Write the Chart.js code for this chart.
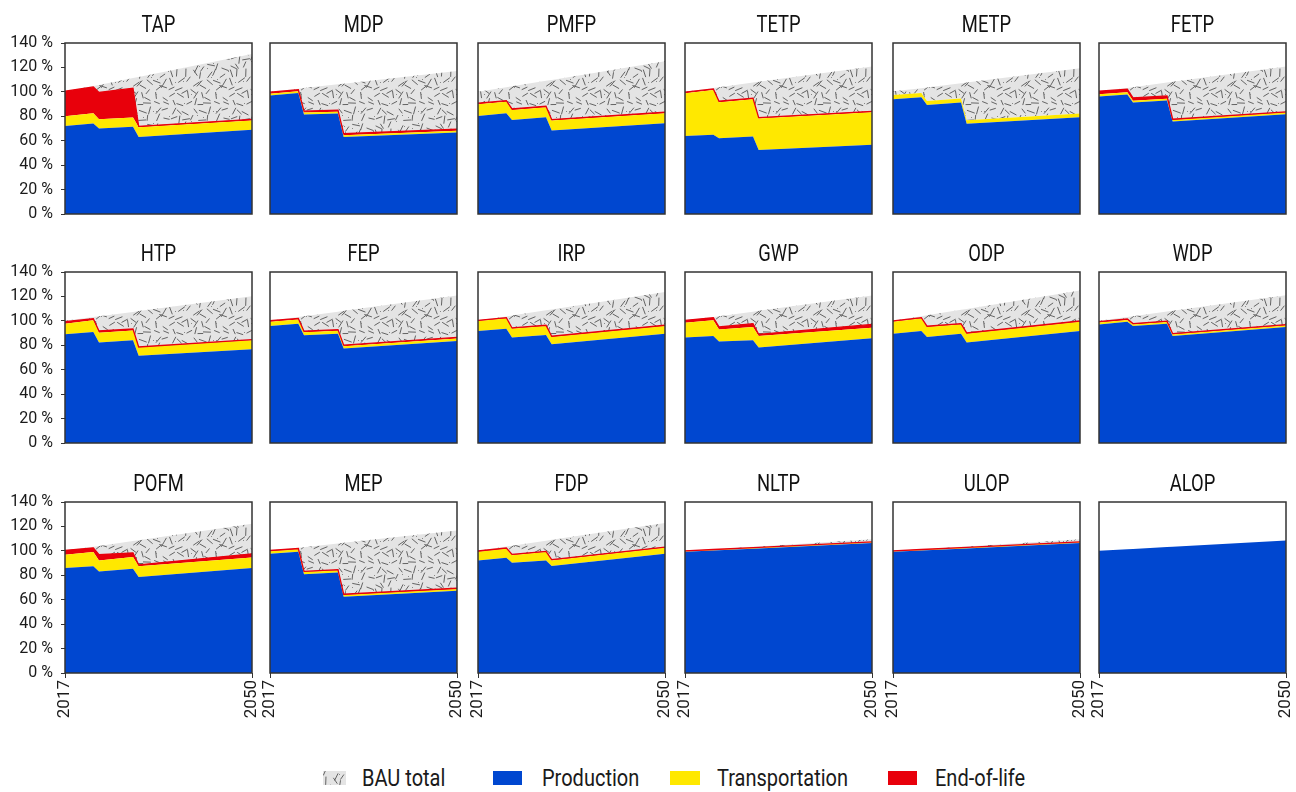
<!DOCTYPE html>
<html>
<head>
<meta charset="utf-8">
<script src="https://cdn.jsdelivr.net/npm/chart.js@4.4.1/dist/chart.umd.min.js"></script>
<style>
    body {
        margin: 0;
        background: #fff;
        width: 1296px;
        height: 792px;
        position: relative;
        overflow: hidden;
        font-family: Roboto, sans-serif;
        color: #1a1a1a;
    }
    .panel { position: absolute; }
    .legend-swatch { position: absolute; }
    .legend-label {
        position: absolute;
        font-size: 23px;
        line-height: 23px;
        white-space: nowrap;
        transform: scaleX(0.87);
        transform-origin: left center;
    }
</style>
</head>
<body>
<div id="panels"></div>

<canvas id="swatchBau" class="legend-swatch" width="23" height="14" style="left:323px;top:771px"></canvas>
<div class="legend-label" style="left:362px;top:767px">BAU total</div>
<div class="legend-swatch" style="left:493px;top:771px;width:29px;height:14px;background:#0047d0"></div>
<div class="legend-label" style="left:542px;top:767px">Production</div>
<div class="legend-swatch" style="left:670px;top:771px;width:30px;height:14px;background:#ffe800"></div>
<div class="legend-label" style="left:717px;top:767px">Transportation</div>
<div class="legend-swatch" style="left:888px;top:771px;width:29px;height:14px;background:#e8000b"></div>
<div class="legend-label" style="left:935px;top:767px">End-of-life</div>

<script>
// years where the scenarios change (steps in 2022-23 and 2029-30)
const years = [2017, 2022, 2023, 2029, 2030, 2050];
const xTickYears = [2017, 2050];
const yTickValues = [0, 20, 40, 60, 80, 100, 120, 140];

const panelNames = [
    "TAP", "MDP", "PMFP", "TETP", "METP", "FETP",
    "HTP", "FEP", "IRP", "GWP", "ODP", "WDP",
    "POFM", "MEP", "FDP", "NLTP", "ULOP", "ALOP"
];

// % of 2017 BAU, one row per panel, one value per year
const production = [
    [72, 74, 70, 71.5, 63, 69],
    [97, 99, 81.5, 82.3, 63, 66.7],
    [80.3, 82.5, 77, 79.2, 68.3, 74.3],
    [63.9, 64.8, 62, 63.4, 52.5, 56.6],
    [94, 95.6, 89.3, 91.3, 73.8, 79.2],
    [96.2, 97.8, 91.3, 92.9, 75.7, 81.7],
    [89, 90.9, 82.2, 84.1, 71.4, 76.8],
    [95.8, 97.7, 88.2, 89.5, 77.3, 83.6],
    [91.7, 93.6, 86.3, 88.4, 80.8, 89.5],
    [86.3, 87.6, 83, 84.1, 78.1, 85.7],
    [89.5, 91.7, 86.8, 89.5, 82.2, 91.7],
    [97.1, 99.3, 95.8, 97.7, 87.6, 95],
    [85.9, 87.5, 83.1, 85.3, 78.5, 85.9],
    [97.7, 99.3, 80.8, 82.2, 62.4, 67.3],
    [92.2, 94.4, 90.3, 92.2, 87.6, 97.7],
    [99.2, 100.3, 100.5, 101.8, 102, 106.5],
    [99.2, 100.3, 100.5, 101.8, 102, 106.5],
    [100, 101.3, 101.5, 103.1, 103.3, 108.5]
];

const transportation = [
    [8, 8.5, 7.5, 7.5, 8, 7.5],
    [1.5, 1.5, 1.5, 1.5, 1.5, 1.5],
    [9.6, 9.5, 8.2, 8.2, 8.2, 8.2],
    [35, 36.8, 29.5, 30.6, 25.6, 26.7],
    [3.5, 3.5, 3.3, 3.3, 3, 3],
    [1.8, 1.8, 1.5, 1.5, 1.3, 1.3],
    [8.7, 9.5, 8.1, 8.1, 6.7, 7.3],
    [3.5, 3.5, 2.5, 2.5, 2, 2],
    [8.1, 8.4, 7.3, 7.4, 6, 6.3],
    [12.2, 12.8, 10, 10.9, 9.5, 8.7],
    [9.8, 10.3, 8.2, 7.6, 7.3, 7.6],
    [1.5, 1.5, 1.3, 1.3, 1.2, 1.2],
    [10.9, 11.5, 9.1, 9.6, 9, 8.7],
    [2, 2, 1.8, 1.8, 1.5, 1.5],
    [7.1, 7.3, 6.2, 6.8, 4.6, 4.8],
    [0.5, 0.5, 0.5, 0.5, 0.5, 0.5],
    [0.5, 0.5, 0.5, 0.5, 0.5, 0.5],
    [0, 0, 0, 0, 0, 0]
];

const endOfLife = [
    [20.5, 21.5, 22, 24, 0.8, 1],
    [1.2, 1.2, 1.2, 1.2, 1.2, 1.2],
    [0.8, 0.8, 0.8, 0.8, 0.8, 0.8],
    [0.8, 0.8, 0.8, 0.8, 0.8, 0.8],
    [0, 0, 0, 0, 0, 0],
    [2.5, 2.5, 2.3, 2.3, 0.6, 0.6],
    [1.6, 1.3, 1.4, 1.1, 0.5, 0.5],
    [0.8, 0.8, 0.8, 0.8, 0.8, 0.8],
    [0.6, 0.6, 0.6, 0.6, 0.6, 0.6],
    [1.9, 2.1, 2, 2.7, 1.4, 2.7],
    [0.6, 0.6, 0.6, 0.6, 0.6, 0.6],
    [0.7, 0.7, 0.7, 0.7, 0.7, 0.7],
    [3.6, 3.5, 4.6, 3.5, 1.1, 3],
    [0.6, 0.6, 0.6, 0.6, 0.6, 0.6],
    [0.6, 0.6, 0.6, 0.6, 0.6, 0.6],
    [0.3, 0.3, 0.3, 0.3, 0.3, 0.3],
    [0.3, 0.3, 0.3, 0.3, 0.3, 0.3],
    [0, 0, 0, 0, 0, 0]
];

const bauTotal = [
    [100.5, 104.7, 105.6, 111.3, 112.2, 131],
    [100, 102.6, 103.1, 106.2, 106.7, 117],
    [100, 103.8, 104.5, 109.1, 109.8, 125],
    [100, 103.2, 103.8, 107.6, 108.2, 120.8],
    [100.5, 102.9, 103.5, 107.1, 107.6, 119.4],
    [100.5, 103.2, 103.8, 107.6, 108.2, 120.8],
    [100, 103.1, 103.7, 107.3, 108, 120.2],
    [100.1, 103.1, 103.8, 107.5, 108.2, 120.7],
    [100.4, 103.6, 104.3, 108.6, 109.3, 123.7],
    [100.4, 103.1, 103.8, 107.5, 108.2, 120.7],
    [100, 103.8, 104.5, 109, 109.8, 124.8],
    [100, 103.2, 103.8, 107.6, 108.3, 121],
    [100.4, 103.4, 104, 108.1, 108.7, 122.2],
    [100.3, 102.5, 103, 106.1, 106.6, 116.7],
    [100, 103.5, 104.2, 108.3, 109, 122.9],
    [100, 101.4, 101.6, 103.3, 103.6, 109.5],
    [100, 101.4, 101.6, 103.3, 103.6, 109.5],
    [100, 101.3, 101.5, 103.1, 103.3, 108.5]
];

const FONT = "Roboto, sans-serif";
const BLUE = "#0047d0";
const YELLOW = "#ffe800";
const RED = "#e8000b";

const colLeft = [65, 270, 478, 685, 893, 1099];
const rowTop = [43, 272, 502];
const PLOT_W = 187;
const PLOT_H = 171;
const AXIS_W = 62;
const TITLE_H = 40;
const XAXIS_H = 48;
const PAD_R = 12;
const PAD_B = 12;

Chart.defaults.font.family = FONT;
Chart.defaults.color = "#1a1a1a";

// fixed pseudo random sequence so the texture is always the same
function seeded(seed) {
    return function () {
        seed |= 0; seed = seed + 0x6D2B79F5 | 0;
        let t = Math.imul(seed ^ seed >>> 15, 1 | seed);
        t = t + Math.imul(t ^ t >>> 7, 61 | t) ^ t;
        return ((t ^ t >>> 14) >>> 0) / 4294967296;
    };
}

function makeHatchTile() {
    const S = 60;
    const tile = document.createElement("canvas");
    tile.width = S;
    tile.height = S;
    const c = tile.getContext("2d");
    c.fillStyle = "#e4e4e4";
    c.fillRect(0, 0, S, S);
    const rnd = seeded(23);
    c.strokeStyle = "#555";
    c.lineWidth = 0.9;
    // jittered grid keeps the dashes evenly spread
    const n = 8;
    const cell = S / n;
    for (let i = 0; i < n; i++) {
        for (let j = 0; j < n; j++) {
            const x = (i + 0.15 + rnd() * 0.7) * cell;
            const y = (j + 0.15 + rnd() * 0.7) * cell;
            const a = rnd() * Math.PI;
            const len = 2.8 + rnd() * 1.4;
            for (const dx of [-S, 0, S]) {
                for (const dy of [-S, 0, S]) {
                    c.beginPath();
                    c.moveTo(x + dx - Math.cos(a) * len, y + dy - Math.sin(a) * len);
                    c.lineTo(x + dx + Math.cos(a) * len, y + dy + Math.sin(a) * len);
                    c.stroke();
                }
            }
        }
    }
    c.fillStyle = "#888";
    for (let k = 0; k < 20; k++) {
        c.fillRect(Math.floor(rnd() * S), Math.floor(rnd() * S), 1, 1);
    }
    return tile;
}

const hatchTile = makeHatchTile();

function hatchPattern(ctx) {
    return ctx.createPattern(hatchTile, "repeat");
}

function toPoints(values) {
    return years.map((x, i) => ({ x: x, y: values[i] }));
}

function noOverflowPadding(scale) {
    scale.paddingLeft = 0;
    scale.paddingRight = 0;
    scale.paddingTop = 0;
    scale.paddingBottom = 0;
}

function framePlugin(title) {
    return {
        id: "panelFrame",
        afterDraw(chart) {
            const { ctx, chartArea } = chart;
            ctx.save();
            ctx.strokeStyle = "#333";
            ctx.lineWidth = 1.5;
            ctx.strokeRect(chartArea.left, chartArea.top, chartArea.right - chartArea.left, chartArea.bottom - chartArea.top);
            // condensed look for the panel title
            const cx = (chartArea.left + chartArea.right) / 2;
            ctx.translate(cx, chartArea.top - 11);
            ctx.scale(0.8, 1);
            ctx.fillStyle = "#111";
            ctx.font = "23px " + FONT;
            ctx.textAlign = "center";
            ctx.textBaseline = "alphabetic";
            ctx.fillText(title, 0, 0);
            ctx.restore();
        }
    };
}

function renderPanel(index) {
    const row = Math.floor(index / 6);
    const col = index % 6;
    const bottomRow = row === 2;
    const firstCol = col === 0;

    const canvas = document.createElement("canvas");
    const w = AXIS_W + PLOT_W + PAD_R;
    const h = TITLE_H + PLOT_H + (bottomRow ? XAXIS_H : PAD_B);
    canvas.width = w;
    canvas.height = h;
    canvas.className = "panel";
    canvas.style.left = (colLeft[col] - AXIS_W) + "px";
    canvas.style.top = (rowTop[row] - TITLE_H) + "px";
    canvas.style.width = w + "px";
    canvas.style.height = h + "px";
    document.getElementById("panels").appendChild(canvas);

    const ctx = canvas.getContext("2d");
    const hasEol = endOfLife[index].some(v => v > 0);

    new Chart(ctx, {
        type: "line",
        data: {
            datasets: [
                {
                    label: "Production",
                    data: toPoints(production[index]),
                    stack: "impact",
                    fill: "origin",
                    backgroundColor: BLUE,
                    borderWidth: 0
                },
                {
                    label: "Transportation",
                    data: toPoints(transportation[index]),
                    stack: "impact",
                    fill: "-1",
                    backgroundColor: YELLOW,
                    borderWidth: 0
                },
                {
                    label: "End-of-life",
                    data: toPoints(endOfLife[index]),
                    stack: "impact",
                    fill: "-1",
                    backgroundColor: RED,
                    borderColor: RED,
                    borderWidth: hasEol ? 1.3 : 0
                },
                {
                    label: "BAU total",
                    data: toPoints(bauTotal[index]),
                    stack: "bau",
                    fill: { target: 2 },
                    backgroundColor: hatchPattern(ctx),
                    borderWidth: 0
                }
            ]
        },
        options: {
            responsive: false,
            animation: false,
            events: [],
            elements: {
                point: { radius: 0, hitRadius: 0 },
                line: { tension: 0 }
            },
            layout: {
                padding: { top: TITLE_H, right: PAD_R, bottom: bottomRow ? 0 : PAD_B, left: 0 }
            },
            plugins: {
                legend: { display: false },
                tooltip: { enabled: false },
                title: { display: false },
                filler: { drawTime: "beforeDatasetsDraw" }
            },
            scales: {
                x: {
                    type: "linear",
                    min: years[0],
                    max: years[years.length - 1],
                    display: bottomRow,
                    afterBuildTicks: scale => {
                        scale.ticks = xTickYears.map(v => ({ value: v }));
                    },
                    afterFit: scale => {
                        scale.height = bottomRow ? XAXIS_H : 0;
                        noOverflowPadding(scale);
                    },
                    grid: { display: true, drawOnChartArea: false, drawTicks: true, tickLength: 5, color: "#333" },
                    border: { display: false },
                    ticks: {
                        autoSkip: false,
                        minRotation: 90,
                        maxRotation: 90,
                        padding: 2,
                        font: { size: 17 },
                        callback: v => String(v)
                    }
                },
                y: {
                    stacked: true,
                    min: 0,
                    max: 140,
                    afterBuildTicks: scale => {
                        scale.ticks = yTickValues.map(v => ({ value: v }));
                    },
                    afterFit: scale => {
                        scale.width = AXIS_W;
                        noOverflowPadding(scale);
                    },
                    grid: { display: firstCol, drawOnChartArea: false, drawTicks: true, tickLength: 4, color: "#333" },
                    border: { display: false },
                    ticks: {
                        display: firstCol,
                        autoSkip: false,
                        padding: 8,
                        font: { size: 16 },
                        callback: v => v + " %"
                    }
                }
            }
        },
        plugins: [framePlugin(panelNames[index])]
    });
}

panelNames.forEach((name, i) => renderPanel(i));

// legend swatch for the textured BAU area
const sw = document.getElementById("swatchBau").getContext("2d");
sw.fillStyle = hatchPattern(sw);
sw.fillRect(0, 0, 23, 14);
</script>
</body>
</html>
